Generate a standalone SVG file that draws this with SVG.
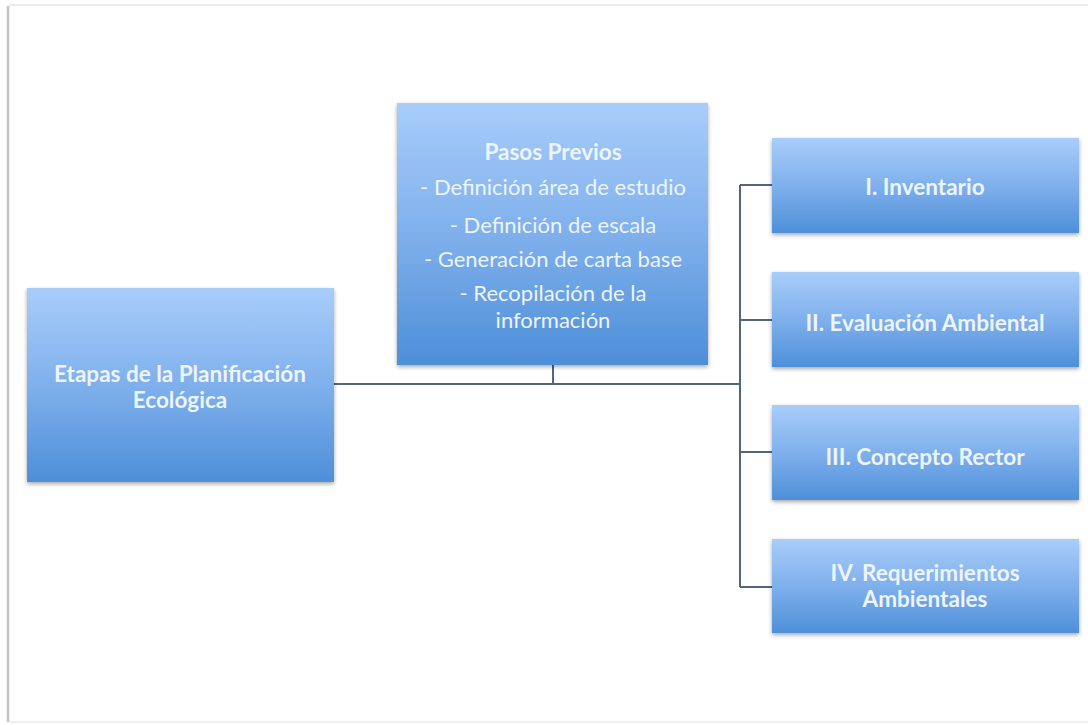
<svg xmlns="http://www.w3.org/2000/svg" width="1088" height="725" viewBox="0 0 1088 725">
<defs>
<linearGradient id="boxGrad" x1="0" y1="0" x2="0" y2="1">
<stop offset="0" stop-color="#a8cdfa"/>
<stop offset="0.5" stop-color="#7fb0ec"/>
<stop offset="1" stop-color="#4e8fd9"/>
</linearGradient>
<filter id="shadow" x="-5%" y="-5%" width="110%" height="115%">
<feGaussianBlur in="SourceAlpha" stdDeviation="2"/>
<feOffset dx="0" dy="2" result="b"/>
<feComponentTransfer><feFuncA type="linear" slope="0.35"/></feComponentTransfer>
<feMerge><feMergeNode/><feMergeNode in="SourceGraphic"/></feMerge>
</filter>
<style>
.box{fill:url(#boxGrad);filter:url(#shadow);}
.t{font-family:"Lato","Open Sans","Liberation Sans",sans-serif;fill:#eef4fc;text-anchor:middle;}
.b{font-weight:bold;font-size:22.5px;}
.r{font-size:22px;}
.conn{stroke:#52667c;stroke-width:2;fill:none;}
</style>
</defs>
<rect x="0" y="0" width="1088" height="725" fill="#ffffff"/>
<g id="frame">
<line x1="9" y1="5" x2="1088" y2="5" stroke="#ececec" stroke-width="2"/>
<line x1="8" y1="6" x2="8" y2="722" stroke="#c4c4c4" stroke-width="2.5"/>
<line x1="9" y1="722" x2="1088" y2="722" stroke="#f0f0f0" stroke-width="2"/>
</g>
<g id="connectors">
<path class="conn" d="M334 384 H740"/>
<path class="conn" d="M553 365 V384"/>
<path class="conn" d="M740 185 V587"/>
<path class="conn" d="M740 185 H772"/>
<path class="conn" d="M740 320 H772"/>
<path class="conn" d="M740 452 H772"/>
<path class="conn" d="M740 587 H772"/>
</g>
<g id="etapas">
<rect class="box" x="27" y="288" width="307" height="194"/>
<text class="t b" x="180" y="382">Etapas de la Planificación</text>
<text class="t b" x="180" y="408">Ecológica</text>
</g>
<g id="pasos">
<rect class="box" x="397" y="103" width="311" height="262"/>
<text class="t b" x="553" y="160">Pasos Previos</text>
<text class="t r" x="553" y="195">- Definición área de estudio</text>
<text class="t r" x="553" y="233">- Definición de escala</text>
<text class="t r" x="553" y="267">- Generación de carta base</text>
<text class="t r" x="553" y="301">- Recopilación de la</text>
<text class="t r" x="553" y="328">información</text>
</g>
<g id="inventario">
<rect class="box" x="772" y="138" width="307" height="95"/>
<text class="t b" x="925" y="195">I. Inventario</text>
</g>
<g id="evaluacion">
<rect class="box" x="772" y="272" width="307" height="95"/>
<text class="t b" x="925" y="331">II. Evaluación Ambiental</text>
</g>
<g id="concepto">
<rect class="box" x="772" y="405" width="307" height="95"/>
<text class="t b" x="925" y="465">III. Concepto Rector</text>
</g>
<g id="requerimientos">
<rect class="box" x="772" y="539" width="307" height="94"/>
<text class="t b" x="925" y="581">IV. Requerimientos</text>
<text class="t b" x="925" y="607">Ambientales</text>
</g>
</svg>
